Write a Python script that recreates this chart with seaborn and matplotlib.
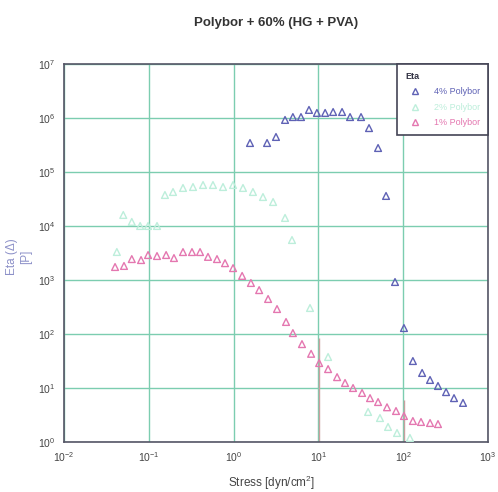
import numpy as np
import pandas as pd
import seaborn as sns
import matplotlib
matplotlib.use("Agg")
import matplotlib.pyplot as plt
from matplotlib.lines import Line2D
from matplotlib.ticker import LogLocator, LogFormatterMathtext, NullFormatter

# Shear stress [dyn/cm^2] and viscosity Eta [P] for each Polybor content
stress_4 = [1.56, 2.48, 3.16, 4.04, 5.0, 6.23, 7.74, 9.6, 12.0, 14.9, 19.0, 23.6,
            31.8, 39.5, 50.5, 62.7, 80, 102, 130, 167, 207, 257, 320, 397, 507]
eta_4 = [3.44e5, 3.44e5, 4.45e5, 9.2e5, 1.04e6, 1.04e6, 1.41e6, 1.24e6, 1.24e6,
         1.29e6, 1.29e6, 1.04e6, 1.04e6, 6.5e5, 2.78e5, 3.6e4, 918, 129, 31.6,
         19.0, 14.1, 10.9, 8.4, 6.5, 5.3]

stress_2 = [0.042, 0.050, 0.063, 0.079, 0.098, 0.125, 0.155, 0.193, 0.253, 0.332,
            0.436, 0.571, 0.750, 0.985, 1.29, 1.69, 2.22, 2.92, 4.04, 4.88, 7.96,
            13.0, 38.5, 53.2, 66.2, 84.5, 120]
eta_2 = [3300, 16000, 11900, 10000, 10000, 10000, 37500, 42600, 50600, 52700,
         57400, 57400, 52700, 57400, 50600, 42600, 34400, 27800, 14100, 5500,
         303, 37.5, 3.6, 2.78, 1.9, 1.47, 1.19]

stress_1 = [0.040, 0.051, 0.063, 0.081, 0.098, 0.125, 0.160, 0.198, 0.253, 0.323,
            0.402, 0.499, 0.637, 0.792, 0.985, 1.26, 1.60, 2.0, 2.55, 3.25, 4.15,
            5.0, 6.4, 8.2, 10.2, 13.0, 16.6, 20.6, 25.6, 32.7, 40.6, 50.5, 64.4,
            82.2, 102, 130, 162, 207, 257]
eta_1 = [1740, 1820, 2440, 2340, 2900, 2780, 2900, 2550, 3290, 3290, 3290, 2680,
         2440, 2050, 1660, 1190, 880, 650, 445, 290, 167, 104, 65, 43, 29, 22.4,
         15.9, 12.4, 10.0, 8.1, 6.5, 5.5, 4.4, 3.75, 3.03, 2.45, 2.35, 2.25, 2.15]

# Error bars on two of the 1% points
err_stress = [10.2, 102]
err_top = [84, 6.0]
err_bottom = [1.0, 1.0]

labels = ["4% Polybor", "2% Polybor", "1% Polybor"]
colors = ["#5f62b5", "#bdeedb", "#e477b0"]

df = pd.concat([
    pd.DataFrame({"stress": stress_4, "eta": eta_4, "series": labels[0]}),
    pd.DataFrame({"stress": stress_2, "eta": eta_2, "series": labels[1]}),
    pd.DataFrame({"stress": stress_1, "eta": eta_1, "series": labels[2]}),
])

sns.set_style("white")
plt.rcParams["font.family"] = ["Liberation Sans", "DejaVu Sans"]
plt.rcParams["mathtext.fontset"] = "custom"
plt.rcParams["mathtext.rm"] = "Liberation Sans"
plt.rcParams["mathtext.it"] = "Liberation Sans"

fig = plt.figure(figsize=(4.98, 4.92), dpi=100)
ax = fig.add_axes([0.1285, 0.1016, 0.8515, 0.7684])
ax.set_xscale("log")
ax.set_yscale("log")
ax.set_xlim(1e-2, 1e3)
ax.set_ylim(1, 1e7)

grid_col = "#7ccdb0"
ax.grid(True, which="major", color=grid_col, linewidth=1.0)
ax.set_axisbelow(True)

ax.vlines(err_stress, err_bottom, err_top, color="#c9a0a0", linewidth=1.0, zorder=2)

for lab, col in zip(labels, colors):
    sub = df[df["series"] == lab]
    sns.scatterplot(data=sub, x="stress", y="eta", ax=ax, marker="^", s=24,
                    facecolor="none", edgecolor=col, linewidth=1.0, zorder=3,
                    legend=False)

for sp in ax.spines.values():
    sp.set_color("#555566")
    sp.set_linewidth(1.2)

ax.xaxis.set_major_locator(LogLocator(base=10, numticks=10))
ax.yaxis.set_major_locator(LogLocator(base=10, numticks=10))
ax.xaxis.set_minor_locator(LogLocator(base=10, subs=np.arange(2, 10), numticks=20))
ax.yaxis.set_minor_locator(LogLocator(base=10, subs=np.arange(2, 10), numticks=20))
ax.xaxis.set_major_formatter(LogFormatterMathtext())
ax.yaxis.set_major_formatter(LogFormatterMathtext())
ax.xaxis.set_minor_formatter(NullFormatter())
ax.yaxis.set_minor_formatter(NullFormatter())
ax.tick_params(which="both", direction="in", colors="#666677", labelcolor="#444444",
               labelsize=7.5)
ax.tick_params(which="major", length=0, pad=6)
ax.tick_params(which="minor", length=2, width=0.6)

ax.set_xlabel("Stress [dyn/cm$^2$]", fontsize=8.5, color="#444444")
ax.xaxis.set_label_coords(0.49, -0.085)
ax.set_ylabel("Eta (\u0394)\n[P]", fontsize=8.5, color="#8c90c8")
ax.yaxis.set_label_coords(-0.076, 0.49)
ax.set_title("Polybor + 60% (HG + PVA)", fontsize=9.5, fontweight="bold",
             color="#333333", pad=27)

handles = [Line2D([], [], linestyle="none", marker="^", markersize=4.5,
                  markerfacecolor="none", markeredgecolor=c, markeredgewidth=1.0)
           for c in colors]
leg = ax.legend(handles, labels, title="Eta", loc="upper right",
                bbox_to_anchor=(1.0, 1.0), borderaxespad=0, fontsize=6.5,
                title_fontsize=6.5, frameon=True, fancybox=False,
                handletextpad=1.0, labelspacing=0.7, borderpad=0.9,
                handlelength=2.2)
leg._legend_box.align = "left"
leg.get_title().set_fontweight("bold")
leg.get_title().set_color("#333344")
for txt, c in zip(leg.get_texts(), colors):
    txt.set_color(c)
fr = leg.get_frame()
fr.set_edgecolor("#444455")
fr.set_linewidth(1.2)
fr.set_facecolor("white")
fr.set_alpha(1.0)

fig.savefig("out.png", dpi=100)
